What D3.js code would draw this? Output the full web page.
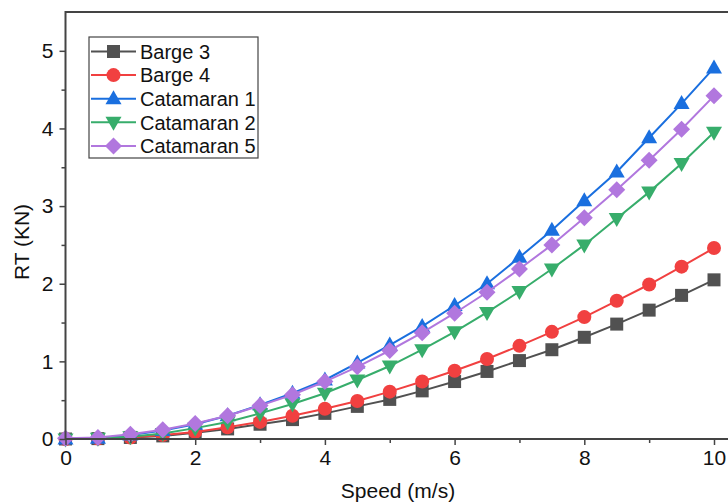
<!DOCTYPE html>
<html>
<head>
<meta charset="utf-8">
<script src="https://cdn.jsdelivr.net/npm/d3@7"></script>
<style>
  html, body { margin: 0; padding: 0; background: #fff; overflow: hidden; }
  svg { display: block; font-family: "Liberation Sans", Arial, sans-serif; }
</style>
</head>
<body>
<div id="chart"></div>
<script>
// speeds (m/s)
var speeds = [0, 0.5, 1, 1.5, 2, 2.5, 3, 3.5, 4, 4.5, 5, 5.5, 6, 6.5, 7, 7.5, 8, 8.5, 9, 9.5, 10];

// total resistance RT (KN)
var barge3 = [0, 0.005, 0.02, 0.04, 0.08, 0.13, 0.19, 0.25, 0.33, 0.42, 0.51, 0.62, 0.74, 0.87, 1.01, 1.15, 1.31, 1.48, 1.66, 1.85, 2.05];
var barge4 = [0, 0.005, 0.02, 0.05, 0.09, 0.15, 0.22, 0.30, 0.39, 0.49, 0.61, 0.74, 0.88, 1.03, 1.20, 1.38, 1.57, 1.78, 1.99, 2.22, 2.46];
var catamaran1 = [0, 0.01, 0.05, 0.11, 0.19, 0.30, 0.44, 0.59, 0.76, 0.98, 1.21, 1.45, 1.72, 2.00, 2.34, 2.69, 3.07, 3.44, 3.88, 4.32, 4.78];
var catamaran2 = [0, 0.01, 0.03, 0.07, 0.14, 0.22, 0.33, 0.45, 0.59, 0.76, 0.94, 1.15, 1.38, 1.63, 1.90, 2.19, 2.50, 2.84, 3.18, 3.55, 3.95];
var catamaran5 = [0.01, 0.02, 0.06, 0.12, 0.20, 0.30, 0.43, 0.57, 0.74, 0.93, 1.14, 1.37, 1.62, 1.89, 2.19, 2.50, 2.85, 3.21, 3.59, 3.99, 4.42];

var seriesNames = ["Barge 3", "Barge 4", "Catamaran 1", "Catamaran 2", "Catamaran 5"];
var seriesValues = [barge3, barge4, catamaran1, catamaran2, catamaran5];
var seriesColors = ["#515151", "#F14040", "#1A6FDF", "#37AD6B", "#B177DE"];
var seriesSymbols = ["square", "circle", "triangleUp", "triangleDown", "diamond"];

var xTicks = [0, 2, 4, 6, 8, 10];
var yTicks = [0, 1, 2, 3, 4, 5];

var width = 728, height = 503;
var margin = { top: 12, left: 65.5, bottom: 64 };
var axisColor = "#444";
var fontSize = "21px";

var svg = d3.select("#chart").append("svg")
    .attr("width", width)
    .attr("height", height);

var x = d3.scaleLinear().domain([0, 10.25]).range([margin.left, margin.left + 10.25 * 64.85]);
var y = d3.scaleLinear().domain([0, 5.5]).range([height - margin.bottom, margin.top]);

// marker path for a given symbol at (0,0)
function markerPath(kind) {
    if (kind === "square") return "M-6.5,-6.5H6.5V6.5H-6.5Z";
    if (kind === "triangleUp") return "M0,-8.5L8,5.5L-8,5.5Z";
    if (kind === "triangleDown") return "M0,8.5L8,-5.5L-8,-5.5Z";
    if (kind === "diamond") return "M0,-8.5L8.5,0L0,8.5L-8.5,0Z";
    return d3.symbol().type(d3.symbolCircle).size(Math.PI * 7 * 7)();
}

// series
var line = d3.line()
    .x(function (d) { return x(d.s); })
    .y(function (d) { return y(d.v); });

seriesValues.forEach(function (vals, i) {
    var pts = speeds.map(function (s, k) { return { s: s, v: vals[k] }; });
    var g = svg.append("g").attr("class", "series");
    g.append("path")
        .datum(pts)
        .attr("fill", "none")
        .attr("stroke", seriesColors[i])
        .attr("stroke-width", 2)
        .attr("d", line);
    g.selectAll("path.mark")
        .data(pts)
        .enter().append("path")
        .attr("class", "mark")
        .attr("d", markerPath(seriesSymbols[i]))
        .attr("fill", seriesColors[i])
        .attr("transform", function (d) { return "translate(" + x(d.s) + "," + y(d.v) + ")"; });
});

// axes
var xAxis = d3.axisBottom(x).tickValues(xTicks).tickSize(6).tickPadding(5).tickFormat(d3.format("d"));
var xMinor = d3.axisBottom(x).tickValues([1, 3, 5, 7, 9]).tickSize(4).tickFormat("");
var yAxis = d3.axisLeft(y).tickValues(yTicks).tickSize(6).tickPadding(6).tickFormat(d3.format("d"));
var yMinor = d3.axisLeft(y).tickValues([0.5, 1.5, 2.5, 3.5, 4.5]).tickSize(4).tickFormat("");

function styleAxis(g) {
    g.select(".domain").remove();
    g.selectAll("line").attr("stroke", axisColor).attr("stroke-width", 1.5);
    g.selectAll("text").attr("fill", "#111").style("font-size", fontSize)
        .style("font-family", "'Liberation Sans', Arial, sans-serif");
}

svg.append("g").attr("transform", "translate(0," + y(0) + ")").call(xAxis).call(styleAxis);
svg.append("g").attr("transform", "translate(0," + y(0) + ")").call(xMinor).call(styleAxis);
svg.append("g").attr("transform", "translate(" + margin.left + ",0)").call(yAxis).call(styleAxis);
svg.append("g").attr("transform", "translate(" + margin.left + ",0)").call(yMinor).call(styleAxis);

// frame
svg.append("rect")
    .attr("x", x(0))
    .attr("y", y(5.5))
    .attr("width", x(10.25) - x(0))
    .attr("height", y(0) - y(5.5))
    .attr("fill", "none")
    .attr("stroke", axisColor)
    .attr("stroke-width", 2);

// axis titles
svg.append("text")
    .attr("x", 398)
    .attr("y", 498)
    .attr("text-anchor", "middle")
    .style("font-size", fontSize)
    .attr("fill", "#111")
    .text("Speed (m/s)");

svg.append("text")
    .attr("transform", "translate(29,242) rotate(-90)")
    .attr("text-anchor", "middle")
    .style("font-size", fontSize)
    .attr("fill", "#111")
    .text("RT (KN)");

// legend
var legend = svg.append("g").attr("transform", "translate(89,37)");
legend.append("rect")
    .attr("width", 169)
    .attr("height", 121)
    .attr("fill", "#fff")
    .attr("stroke", axisColor)
    .attr("stroke-width", 1.2);

seriesNames.forEach(function (name, i) {
    var row = legend.append("g").attr("transform", "translate(0," + (14.5 + i * 23.6) + ")");
    row.append("line")
        .attr("x1", 2).attr("x2", 47)
        .attr("stroke", seriesColors[i])
        .attr("stroke-width", 2);
    row.append("path")
        .attr("d", markerPath(seriesSymbols[i]))
        .attr("fill", seriesColors[i])
        .attr("transform", "translate(24.5,0)");
    row.append("text")
        .attr("x", 51)
        .attr("dy", "0.36em")
        .style("font-size", "20px")
        .attr("fill", "#111")
        .text(name);
});
</script>
</body>
</html>
